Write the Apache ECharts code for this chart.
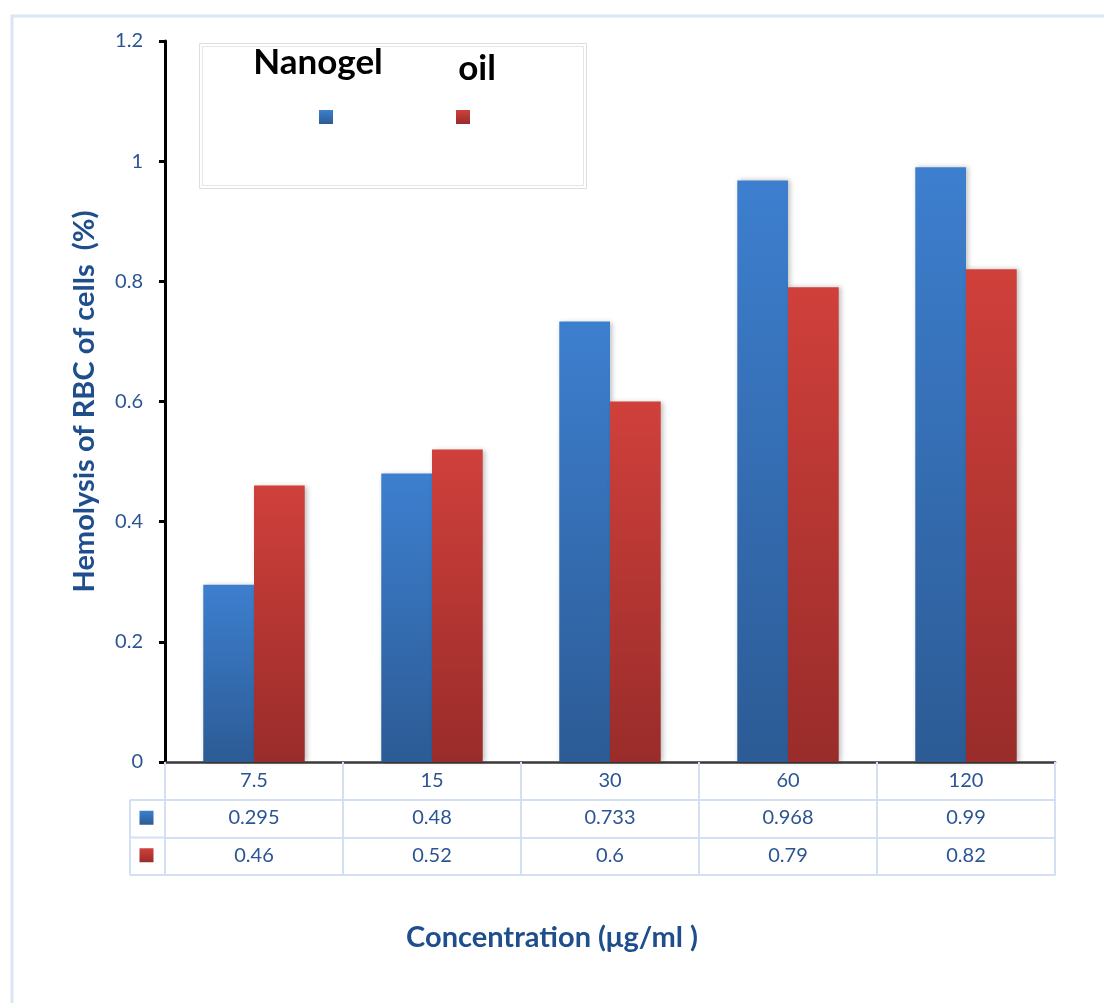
<!DOCTYPE html>
<html>
<head>
<meta charset="utf-8">
<title>Hemolysis of RBC</title>
<script src="https://cdn.jsdelivr.net/npm/echarts@6/dist/echarts.min.js"></script>
<style>
  html, body { margin: 0; padding: 0; background: #ffffff; }
  #chart { width: 1104px; height: 1003px; }
</style>
</head>
<body>
<div id="chart"></div>
<script>
// Concentrations (µg/ml) and hemolysis values per formulation
const categories = ['7.5', '15', '30', '60', '120'];
const nanogel = [0.295, 0.48, 0.733, 0.968, 0.99];
const oil = [0.46, 0.52, 0.6, 0.79, 0.82];
const seriesNames = ['Nanogel', 'oil'];

// Layout
const W = 1104, H = 1003;
const GRID_LEFT = 165, GRID_RIGHT = 1055, GRID_TOP = 41, GRID_BOTTOM = 762;
const ROW1 = 38, ROW2 = 37.5, ROW3 = 37.5;
const KEY_LEFT = 130;
const TABLE_LINE = '#d3e0f1';
const LABEL_COLOR = '#2b5592';
const TITLE_COLOR = '#1f4e8c';
const FONT = 'Lato, "Open Sans", sans-serif';
const LABEL_SIZE = 20;

const blueFill = new echarts.graphic.LinearGradient(0, 0, 0, 1, [
  { offset: 0, color: '#3d7fcf' },
  { offset: 1, color: '#2c5b95' }
]);
const redFill = new echarts.graphic.LinearGradient(0, 0, 0, 1, [
  { offset: 0, color: '#d0403b' },
  { offset: 1, color: '#992c2a' }
]);

const chart = echarts.init(document.getElementById('chart'), null, { renderer: 'canvas' });

// Table row axis: a category axis shifted below the plot, labels carry the row values
function tableAxis(data, offset, tickLen, showLine) {
  return {
    type: 'category',
    gridIndex: 0,
    position: 'bottom',
    offset: offset,
    data: data,
    boundaryGap: true,
    axisLine: { show: showLine, lineStyle: { color: TABLE_LINE, width: 2 } },
    axisTick: { show: tickLen > 0, length: tickLen, inside: false, lineStyle: { color: TABLE_LINE, width: 2 } },
    axisLabel: { show: data.length > 0, margin: 8, color: LABEL_COLOR, fontSize: LABEL_SIZE, fontFamily: FONT },
    splitLine: { show: false }
  };
}

const row1Bottom = GRID_BOTTOM + ROW1;
const row2Bottom = row1Bottom + ROW2;
const row3Bottom = row2Bottom + ROW3;

const option = {
  backgroundColor: '#ffffff',
  animation: false,
  title: {
    text: 'Concentration (μg/ml )',
    left: 'center',
    top: 918,
    textStyle: { color: TITLE_COLOR, fontSize: 29, fontWeight: 'bold', fontFamily: FONT }
  },
  legend: [
    {
      data: [seriesNames[0]], left: 319, top: 110, padding: 0, itemWidth: 14, itemHeight: 14,
      icon: 'rect', formatter: () => '', selectedMode: true
    },
    {
      data: [seriesNames[1]], left: 456, top: 110, padding: 0, itemWidth: 14, itemHeight: 14,
      icon: 'rect', formatter: () => '', selectedMode: true
    }
  ],
  grid: {
    left: GRID_LEFT,
    right: W - GRID_RIGHT,
    top: GRID_TOP,
    bottom: H - GRID_BOTTOM,
    containLabel: false
  },
  xAxis: [
    {
      type: 'category',
      data: categories,
      position: 'bottom',
      boundaryGap: true,
      axisLine: { show: true, lineStyle: { color: '#3a3a3a', width: 2.5 } },
      axisTick: { show: true, length: ROW1, lineStyle: { color: TABLE_LINE, width: 2 } },
      axisLabel: { margin: 9, color: LABEL_COLOR, fontSize: LABEL_SIZE, fontFamily: FONT },
      splitLine: { show: false }
    },
    tableAxis(nanogel.map(String), ROW1, ROW2, true),
    tableAxis(oil.map(String), ROW1 + ROW2, ROW3, true),
    tableAxis([], ROW1 + ROW2 + ROW3, 0, true)
  ],
  yAxis: {
    type: 'value',
    min: 0,
    max: 1.2,
    interval: 0.2,
    name: 'Hemolysis of RBC of cells  (%)',
    nameLocation: 'middle',
    nameGap: 66,
    nameTextStyle: { color: TITLE_COLOR, fontSize: 29, fontWeight: 'bold', fontFamily: FONT },
    axisLine: { show: true, lineStyle: { color: '#000000', width: 3 } },
    axisTick: { show: true, length: 6, lineStyle: { color: '#000000', width: 3 } },
    axisLabel: { margin: 22, color: LABEL_COLOR, fontSize: LABEL_SIZE, fontFamily: FONT },
    splitLine: { show: false }
  },
  series: [
    {
      name: seriesNames[0],
      type: 'bar',
      xAxisIndex: 0,
      data: nanogel,
      barGap: '0%',
      barCategoryGap: '43%',
      itemStyle: {
        color: blueFill,
        shadowBlur: 5,
        shadowOffsetX: 2,
        shadowColor: 'rgba(0,0,0,0.25)'
      }
    },
    {
      name: seriesNames[1],
      type: 'bar',
      xAxisIndex: 0,
      data: oil,
      barGap: '0%',
      barCategoryGap: '43%',
      itemStyle: {
        color: redFill,
        shadowBlur: 5,
        shadowOffsetX: 2,
        shadowColor: 'rgba(0,0,0,0.25)'
      }
    }
  ],
  graphic: [
    // outer chart frame
    {
      type: 'rect', silent: true, z: -1,
      shape: { x: 12, y: 16, width: W + 20, height: H + 20 },
      style: { fill: null, stroke: '#dae6f6', lineWidth: 3 }
    },
    // legend frame (double line)
    {
      type: 'rect', silent: true,
      shape: { x: 199.5, y: 43.5, width: 387, height: 145 },
      style: { fill: null, stroke: '#dedede', lineWidth: 1 }
    },
    {
      type: 'rect', silent: true,
      shape: { x: 202.5, y: 46.5, width: 381, height: 139 },
      style: { fill: null, stroke: '#e6e6e6', lineWidth: 1 }
    },
    {
      type: 'text', silent: true,
      style: {
        x: 318, y: 63, text: seriesNames[0], align: 'center', verticalAlign: 'middle',
        fill: '#000000', font: 'bold 35px ' + FONT
      }
    },
    {
      type: 'text', silent: true,
      style: {
        x: 477, y: 69, text: seriesNames[1], align: 'center', verticalAlign: 'middle',
        fill: '#000000', font: 'bold 35px ' + FONT
      }
    },
    // key column of the data table
    {
      type: 'line', silent: true,
      shape: { x1: KEY_LEFT, y1: row1Bottom, x2: GRID_LEFT, y2: row1Bottom },
      style: { stroke: TABLE_LINE, lineWidth: 2 }
    },
    {
      type: 'line', silent: true,
      shape: { x1: KEY_LEFT, y1: row2Bottom, x2: GRID_LEFT, y2: row2Bottom },
      style: { stroke: TABLE_LINE, lineWidth: 2 }
    },
    {
      type: 'line', silent: true,
      shape: { x1: KEY_LEFT, y1: row3Bottom, x2: GRID_LEFT, y2: row3Bottom },
      style: { stroke: TABLE_LINE, lineWidth: 2 }
    },
    {
      type: 'line', silent: true,
      shape: { x1: KEY_LEFT, y1: row1Bottom, x2: KEY_LEFT, y2: row3Bottom },
      style: { stroke: TABLE_LINE, lineWidth: 2 }
    },
    {
      type: 'rect', silent: true,
      shape: { x: (KEY_LEFT + GRID_LEFT) / 2 - 8, y: row1Bottom + ROW2 / 2 - 8, width: 14, height: 14 },
      style: { fill: blueFill }
    },
    {
      type: 'rect', silent: true,
      shape: { x: (KEY_LEFT + GRID_LEFT) / 2 - 8, y: row2Bottom + ROW3 / 2 - 8, width: 14, height: 14 },
      style: { fill: redFill }
    }
  ]
};

chart.setOption(option);
</script>
</body>
</html>
